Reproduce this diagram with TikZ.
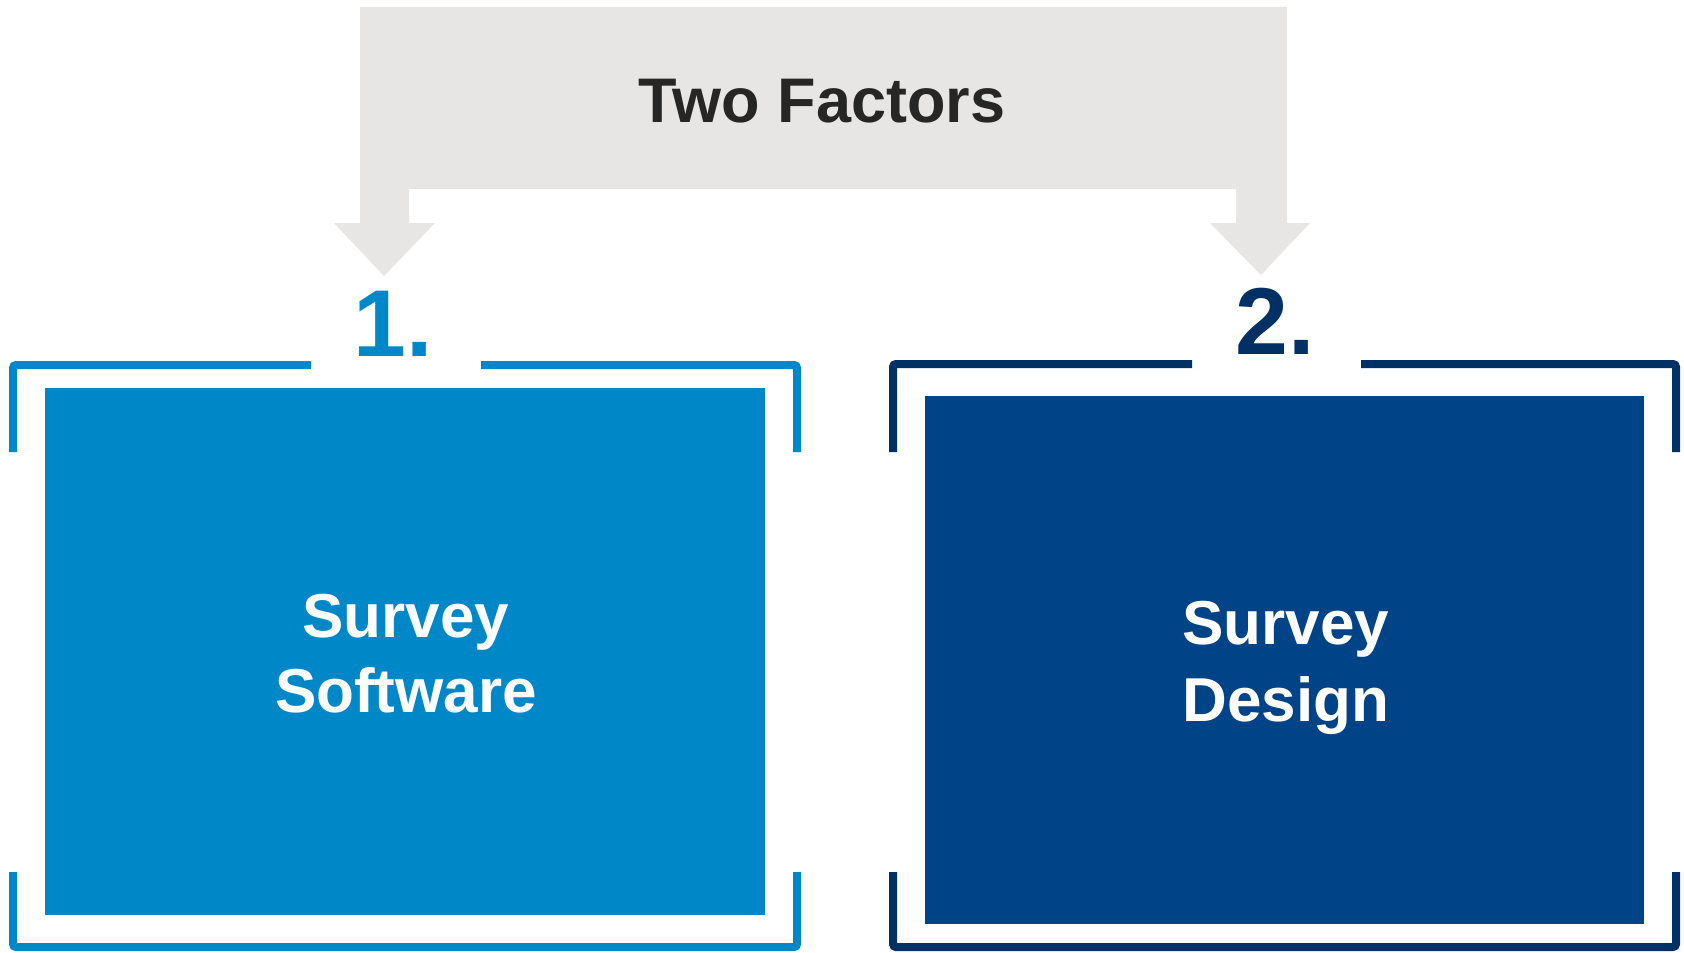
\documentclass[tikz,border=0pt]{standalone}
\usepackage{fontspec}
\setmainfont{Liberation Sans}
\definecolor{lblue}{RGB}{0,135,200}
\definecolor{dframe}{RGB}{0,48,100}
\definecolor{dbox}{RGB}{0,67,134}
\definecolor{gbox}{RGB}{231,230,228}
\definecolor{gtext}{RGB}{38,38,38}
\tikzset{
  frameline/.style={line width=4pt, rounded corners=1.5pt, line cap=butt},
  numtext/.style={inner sep=0pt, anchor=base west, font=\fontsize{47.5}{50}\selectfont\bfseries},
  boxtext/.style={inner sep=0pt, anchor=base, text=white, font=\fontsize{31}{36}\selectfont\bfseries},
  titletext/.style={inner sep=0pt, anchor=base, text=gtext, font=\fontsize{31.5}{36}\selectfont\bfseries},
}
\begin{document}
\begin{tikzpicture}[x=0.5pt, y=-0.5pt]
\useasboundingbox (0,0) rectangle (1684,952);
% gray header with two down arrows
\fill[gbox] (360,7) -- (1287,7) -- (1287,223) -- (1310,223) -- (1261,275)
  -- (1210,223) -- (1236,223) -- (1236,189) -- (409,189) -- (409,223)
  -- (435,223) -- (384,276) -- (334,223) -- (360,223) -- cycle;
\node[titletext] (title) at (822,123) {Two Factors};
% left panel
\fill[lblue] (45,388) rectangle (765,915);
\coordinate (b1) at (405,651);
\draw[frameline, lblue] (13,452) -- (13,365) -- (311,365);
\draw[frameline, lblue] (481,365) -- (797,365) -- (797,452);
\draw[frameline, lblue] (13,872) -- (13,947) -- (797,947) -- (797,872);
\node[numtext, text=lblue] (n1) at (353,356) {1.};
\node[boxtext] (s1a) at (406,637) {Survey};
\node[boxtext] (s1b) at (406,712) {Software};
% right panel
\fill[dbox] (925,396) rectangle (1644,924);
\draw[frameline, dframe] (893,452) -- (893,364) -- (1192,364);
\draw[frameline, dframe] (1361,364) -- (1676,364) -- (1676,452);
\draw[frameline, dframe] (893,872) -- (893,947) -- (1676,947) -- (1676,872);
\node[numtext, text=dframe] (n2) at (1235,354) {2.};
\node[boxtext] (s2a) at (1286,644) {Survey};
\node[boxtext] (s2b) at (1286,721) {Design};
\end{tikzpicture}
\end{document}
